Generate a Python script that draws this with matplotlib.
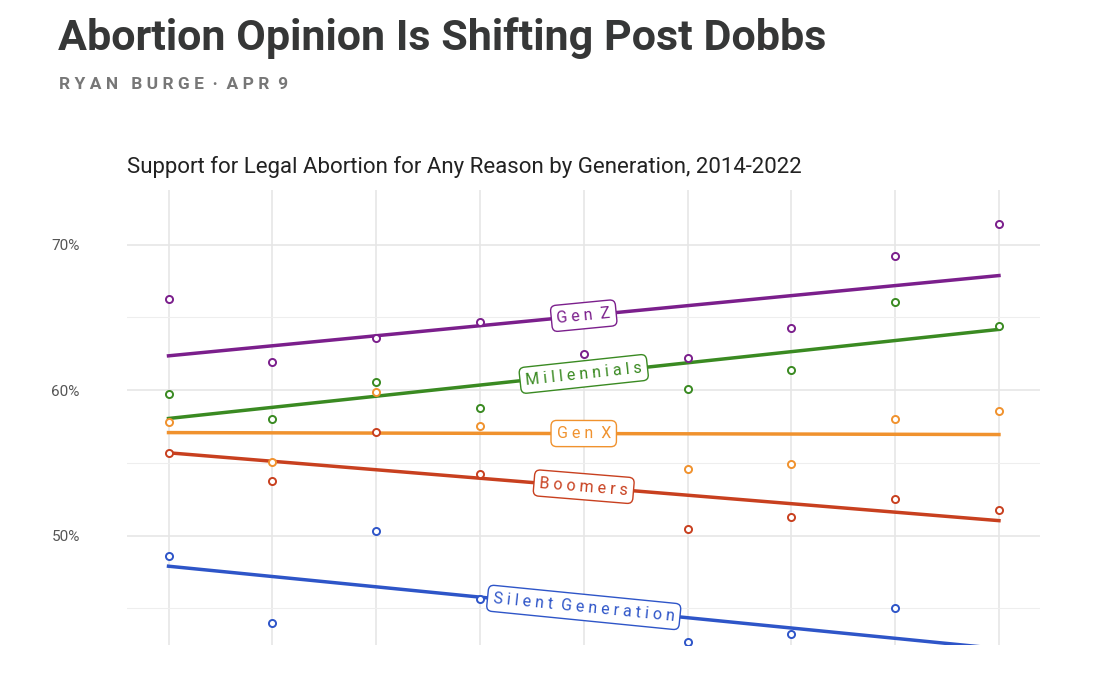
import numpy as np
import matplotlib.pyplot as plt

years = [2014, 2015, 2016, 2017, 2018, 2019, 2020, 2021, 2022]
gen_z = [66.25, 61.9, 63.6, 64.7, 62.5, 62.2, 64.3, 69.2, 71.4]
millennials = [59.7, 58.0, 60.55, 58.8, 61.0, 60.1, 61.4, 66.05, 64.4]
gen_x = [57.8, 55.05, 59.85, 57.5, 56.9, 54.55, 54.9, 58.0, 58.55]
boomers = [55.7, 53.75, 57.1, 54.2, 53.5, 50.45, 51.25, 52.5, 51.75]
silent = [48.6, 44.0, 50.3, 45.6, 44.6, 42.7, 43.2, 45.0, 41.5]

series = [
    ("Gen Z", gen_z, "#7B1F8C"),
    ("Millennials", millennials, "#3A8A22"),
    ("Gen X", gen_x, "#F0922E"),
    ("Boomers", boomers, "#C8401F"),
    ("Silent Generation", silent, "#2E55C8"),
]

fig = plt.figure(figsize=(11.14, 6.84), dpi=100)
fig.text(0.052, 0.945, "Abortion Opinion Is Shifting Post Dobbs", fontsize=31,
         fontweight="bold", color="#363737", va="center", family="Roboto")
fig.text(0.053, 0.877, "R Y A N   B U R G E  \u00b7  A P R  9", fontsize=12.5, fontweight="bold",
         color="#777777", va="center", family="Roboto")

ax = fig.add_axes([0.114, 0.057, 0.82, 0.665])
ax.set_xlim(2013.6, 2022.4)
ax.set_ylim(42.47, 73.75)
ax.set_yticks([50, 60, 70])
ax.set_yticklabels(["50%", "60%", "70%"], color="#555555", fontsize=11, family="Roboto")
ax.set_yticks([45, 55, 65], minor=True)
ax.set_xticks(years)
ax.tick_params(axis="both", which="both", length=0, labelbottom=False, pad=34)
ax.grid(True, which="major", color="#e6e6e6", lw=1.2)
ax.grid(True, which="minor", axis="y", color="#eeeeee", lw=0.8)
for s in ax.spines.values():
    s.set_visible(False)
ax.set_title("Support for Legal Abortion for Any Reason by Generation, 2014-2022",
             loc="left", fontsize=16, family="Roboto", color="#222222", pad=12)

yrs = np.array(years)
fig.canvas.draw()
for name, vals, col in series:
    ax.scatter(years, vals, s=26, facecolor="white", edgecolor=col, lw=1.4, zorder=3)
    m, b = np.polyfit(yrs, vals, 1)
    ax.plot(yrs, m * yrs + b, color=col, lw=2.5, zorder=2)
    lx = 2018
    p1 = ax.transData.transform((2014, m * 2014 + b))
    p2 = ax.transData.transform((2022, m * 2022 + b))
    ang = np.degrees(np.arctan2(p2[1] - p1[1], p2[0] - p1[0]))
    ax.text(lx, m * lx + b, " ".join(name).replace("   ", "  "), color=col, fontsize=11.5,
            ha="center", va="center", rotation=ang, rotation_mode="anchor", zorder=5,
            family="Roboto", fontstretch="condensed",
            bbox=dict(boxstyle="round,pad=0.35", fc="white", ec=col, lw=1))

fig.savefig("out.png", dpi=100)
